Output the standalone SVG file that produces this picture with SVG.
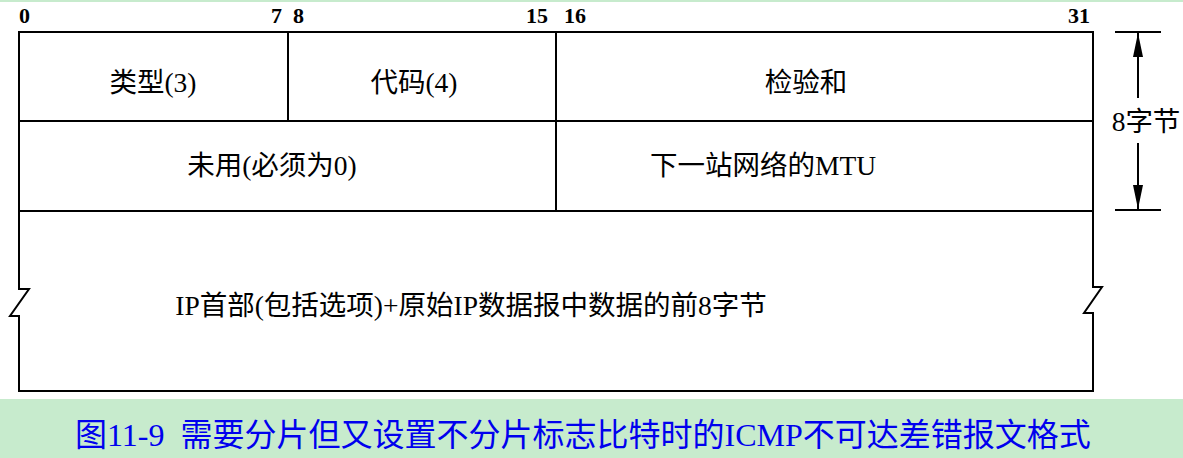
<svg xmlns="http://www.w3.org/2000/svg" width="1183" height="458" viewBox="0 0 1183 458">
<defs>
<style>
.ln{stroke:#000;stroke-width:2;fill:none}
.bit{font-family:"Liberation Serif",serif;font-weight:bold;font-size:22px;fill:#000}
.fld{font-family:"Liberation Serif","Noto Sans CJK SC",serif;font-size:27.5px;fill:#000;text-anchor:middle}
.cap{font-family:"Liberation Serif","Noto Sans CJK SC",serif;font-size:32px;fill:#0000ee;white-space:pre}
</style>
<marker id="ah" viewBox="0 0 24 10" refX="24" refY="5" markerWidth="24" markerHeight="10" markerUnits="userSpaceOnUse" orient="auto">
<path d="M0,0 L24,5 L0,10 Z" fill="#000"/>
</marker>
</defs>
<rect x="0" y="0" width="1183" height="458" fill="#fff"/>
<rect x="0" y="0" width="1183" height="2" fill="#c7ebcd"/>
<g id="bits">
<text class="bit" x="19" y="23">0</text>
<text class="bit" x="271" y="23">7</text>
<text class="bit" x="293" y="23">8</text>
<text class="bit" x="526" y="23">15</text>
<text class="bit" x="564" y="23">16</text>
<text class="bit" x="1068" y="23">31</text>
</g>
<g id="frame">
<path class="ln" d="M19,32 H1093 V287 H1102 L1084,313 H1093 V391 H19 V316 H10 L29,289 H19 Z"/>
<line class="ln" x1="19" y1="121" x2="1093" y2="121"/>
<line class="ln" x1="19" y1="211" x2="1093" y2="211"/>
</g>
<g id="type">
<line class="ln" x1="288" y1="32" x2="288" y2="121"/>
<text class="fld" x="153" y="92">类型(3)</text>
</g>
<g id="code">
<line class="ln" x1="556" y1="32" x2="556" y2="211"/>
<text class="fld" x="414" y="92">代码(4)</text>
</g>
<g id="checksum">
<text class="fld" x="806" y="92">检验和</text>
</g>
<g id="unused">
<text class="fld" x="272" y="175">未用(必须为0)</text>
</g>
<g id="mtu">
<text class="fld" x="763" y="175">下一站网络的MTU</text>
</g>
<g id="ipdata">
<text class="fld" x="471" y="315">IP首部(包括选项)+原始IP数据报中数据的前8字节</text>
</g>
<g id="connectors">
<line class="ln" x1="1115" y1="32" x2="1161" y2="32"/>
<line class="ln" x1="1115" y1="210" x2="1161" y2="210"/>
<line class="ln" x1="1138" y1="98" x2="1138" y2="33" marker-end="url(#ah)"/>
<line class="ln" x1="1138" y1="143" x2="1138" y2="209" marker-end="url(#ah)"/>
</g>
<g id="size">
<text class="fld" x="1146" y="131">8字节</text>
</g>
<rect x="0" y="399" width="1183" height="59" fill="#c7ebcd"/>
<text class="cap" x="75" y="446" xml:space="preserve">图11-9  需要分片但又设置不分片标志比特时的ICMP不可达差错报文格式</text>
</svg>
